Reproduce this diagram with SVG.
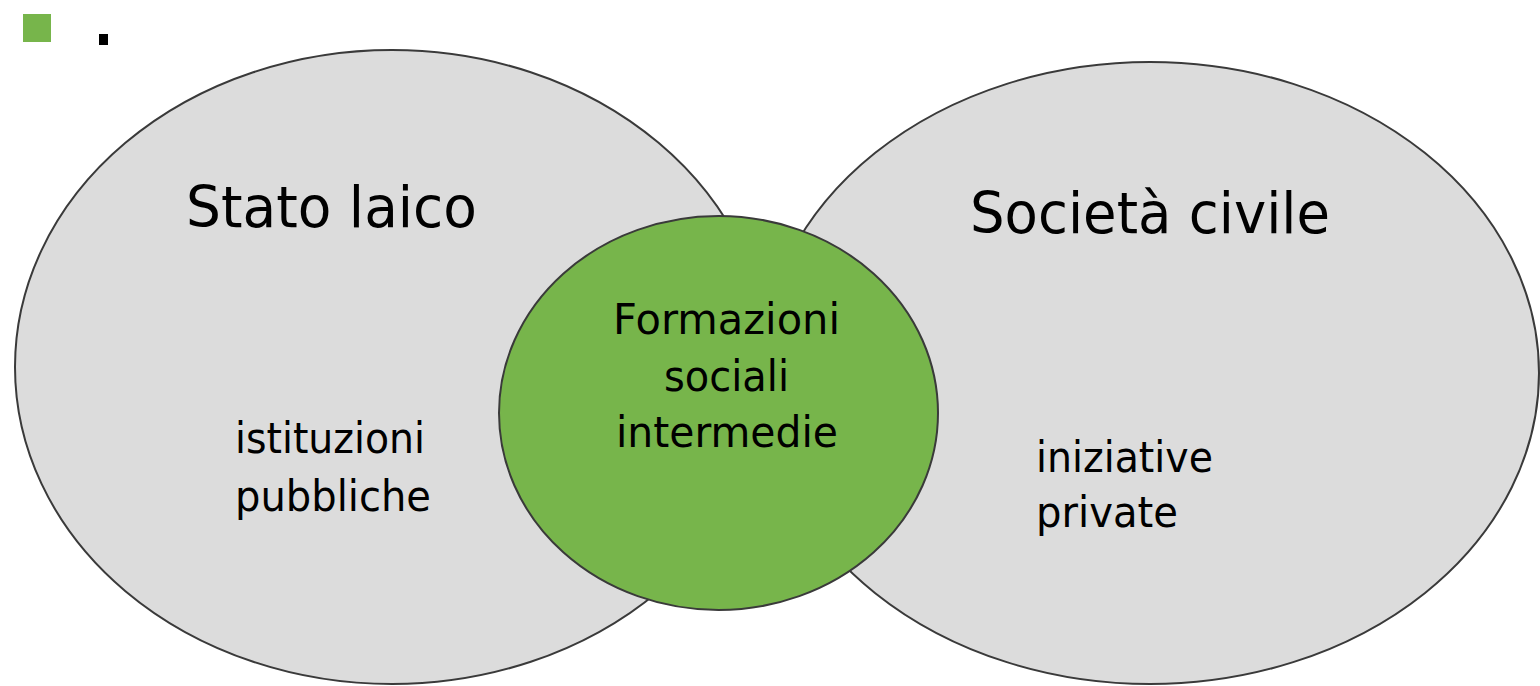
<svg xmlns="http://www.w3.org/2000/svg" width="1540" height="686" viewBox="0 0 1540 686">
<style>
.big{fill:#dcdcdc;stroke:#3a3a3a;stroke-width:2}
.mid{fill:#77b54b;stroke:#3a3a3a;stroke-width:2}
text{font-family:"DejaVu Sans","Liberation Sans",sans-serif;fill:#000}
.t1{font-size:57px}
.t2{font-size:43px}
</style>
<rect x="0" y="0" width="1540" height="686" fill="#ffffff"/>
<rect x="23" y="14" width="28" height="28" fill="#77b54b"/>
<rect x="99" y="34" width="9" height="11" fill="#000"/>
<g id="connectors"></g>
<g id="stato">
<ellipse class="big" cx="392" cy="367" rx="377" ry="317"/>
<text class="t1" x="186" y="227" textLength="291" lengthAdjust="spacingAndGlyphs">Stato laico</text>
<text class="t2" x="235" y="453" textLength="190" lengthAdjust="spacingAndGlyphs">istituzioni</text>
<text class="t2" x="235" y="511" textLength="196" lengthAdjust="spacingAndGlyphs">pubbliche</text>
</g>
<g id="societa">
<ellipse class="big" cx="1150" cy="373" rx="389" ry="311"/>
<text class="t1" x="970" y="233" textLength="360" lengthAdjust="spacingAndGlyphs">Società civile</text>
<text class="t2" x="1036" y="472" textLength="177" lengthAdjust="spacingAndGlyphs">iniziative</text>
<text class="t2" x="1036" y="527" textLength="142" lengthAdjust="spacingAndGlyphs">private</text>
</g>
<g id="formazioni">
<ellipse class="mid" cx="718.5" cy="413" rx="219.5" ry="197"/>
<text class="t2" x="613" y="334" textLength="227" lengthAdjust="spacingAndGlyphs">Formazioni</text>
<text class="t2" x="664" y="391" textLength="125" lengthAdjust="spacingAndGlyphs">sociali</text>
<text class="t2" x="616" y="447" textLength="222" lengthAdjust="spacingAndGlyphs">intermedie</text>
</g>
</svg>
